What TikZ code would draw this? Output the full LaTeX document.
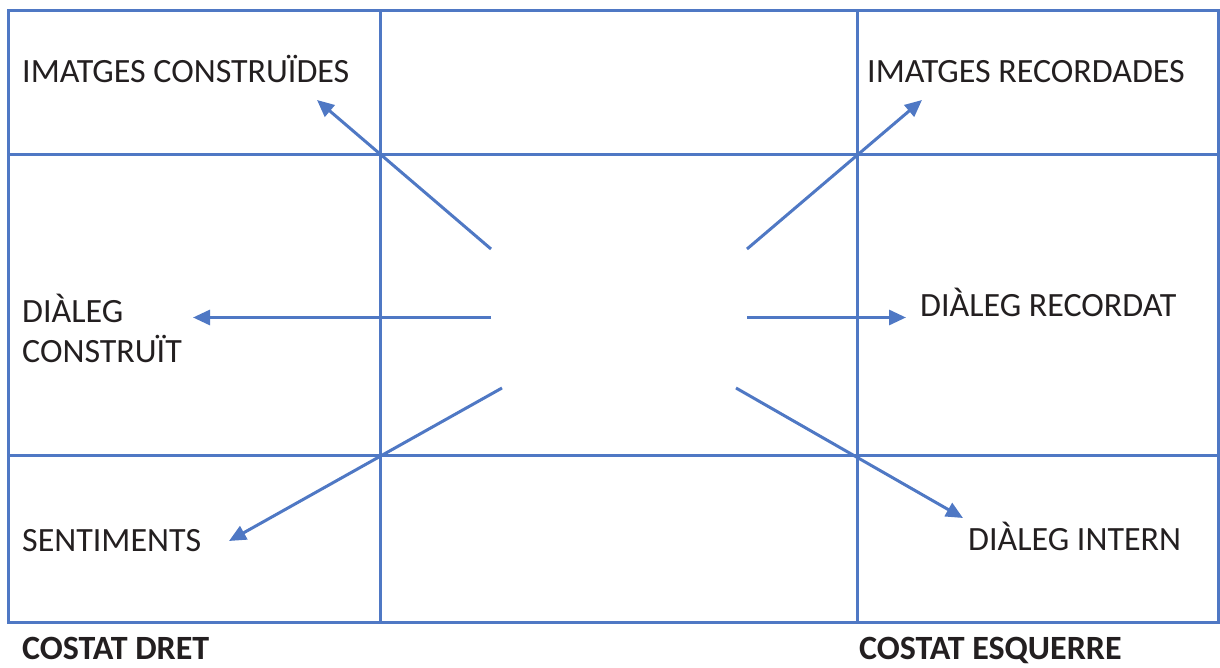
\documentclass[tikz,border=0pt]{standalone}
\usepackage{fontspec}
\setmainfont{Carlito}
\usetikzlibrary{arrows.meta}
\definecolor{gridblue}{HTML}{4F78C4}
\definecolor{txt}{HTML}{231F20}
\tikzset{
  gridline/.style={draw=gridblue, line width=3pt},
  conn/.style={draw=gridblue, line width=3pt, -{Triangle[length=17pt,width=15pt]}},
  lbl/.style={anchor=base west, inner sep=0pt, text=txt, font=\fontsize{34}{40}\selectfont},
  blbl/.style={lbl, font=\fontsize{34}{40}\selectfont\bfseries},
}
\begin{document}
\begin{tikzpicture}[x=1pt,y=-1pt]
\useasboundingbox (0,0) rectangle (1220,668);
% grid
\draw[gridline] (8.5,10.5) rectangle (1218,622);
\draw[gridline] (380,10.5) -- (380,622);
\draw[gridline] (857,10.5) -- (857,622);
\draw[gridline] (8.5,155) -- (1218,155);
\draw[gridline] (8.5,455) -- (1218,455);
% labels
\node[lbl] (ic) at (22,83) {IMATGES CONSTRUÏDES};
\node[lbl] (ir) at (867,83) {IMATGES RECORDADES};
\node[lbl] (dc1) at (22,322) {DIÀLEG};
\node[lbl] (dc2) at (22,362) {CONSTRUÏT};
\node[lbl] (dr) at (920,316) {DIÀLEG RECORDAT};
\node[lbl] (se) at (22,551) {SENTIMENTS};
\node[lbl] (di) at (968,550) {DIÀLEG INTERN};
\node[blbl] (cd) at (22,659) {COSTAT DRET};
\node[blbl] (ce) at (859,659) {COSTAT ESQUERRE};
% arrow end points
\coordinate (s1) at (491,249);
\coordinate (t1) at (317,100);
\coordinate (s2) at (491,317.5);
\coordinate (t2) at (193,317.5);
\coordinate (s3) at (502,388);
\coordinate (t3) at (229,541);
\coordinate (s4) at (747,249);
\coordinate (t4) at (922,100);
\coordinate (s5) at (747,317.5);
\coordinate (t5) at (906,317.5);
\coordinate (s6) at (736,388);
\coordinate (t6) at (963,518);
\draw[conn] (s1) -- (t1);
\draw[conn] (s2) -- (t2);
\draw[conn] (s3) -- (t3);
\draw[conn] (s4) -- (t4);
\draw[conn] (s5) -- (t5);
\draw[conn] (s6) -- (t6);
\end{tikzpicture}
\end{document}
